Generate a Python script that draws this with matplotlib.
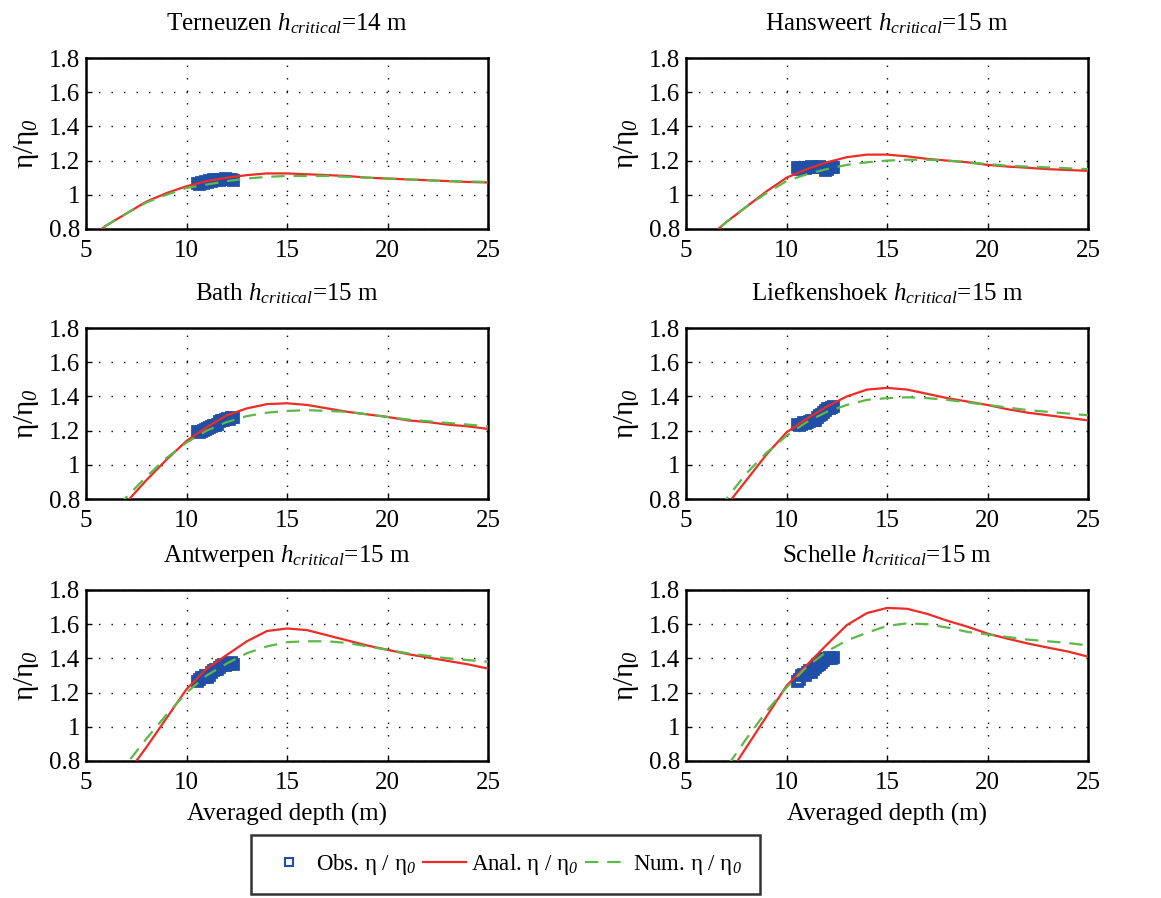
import matplotlib
matplotlib.use('Agg')
import matplotlib.pyplot as plt
from matplotlib.ticker import FormatStrFormatter
from matplotlib.lines import Line2D
import numpy as np

plt.rcParams['font.family'] = ['Liberation Serif', 'DejaVu Serif']
plt.rcParams['mathtext.fontset'] = 'custom'
plt.rcParams['mathtext.rm'] = 'Liberation Serif'
plt.rcParams['mathtext.it'] = 'Liberation Serif:italic'
plt.rcParams['mathtext.cal'] = 'Liberation Serif:italic'

# Stations and critical depths
stations = ['Terneuzen', 'Hansweert', 'Bath', 'Liefkenshoek', 'Antwerpen', 'Schelle']
h_critical = [14, 15, 15, 15, 15, 15]

# Model curves, evaluated at integer depths
depth = [5, 6, 7, 8, 9, 10, 11, 12, 13, 14, 15, 16, 17, 18, 19, 20, 21, 22, 23, 24, 25]

anal_terneuzen = [0.73, 0.82, 0.89, 0.96, 1.01, 1.05, 1.08, 1.10, 1.115, 1.125, 1.125, 1.12, 1.115, 1.11, 1.10, 1.095, 1.09, 1.085, 1.08, 1.075, 1.072]
num_terneuzen = [0.73, 0.82, 0.89, 0.955, 1.0, 1.04, 1.06, 1.08, 1.095, 1.105, 1.11, 1.11, 1.11, 1.105, 1.10, 1.095, 1.09, 1.085, 1.08, 1.078, 1.075]

anal_hansweert = [0.65, 0.74, 0.84, 0.93, 1.02, 1.10, 1.15, 1.19, 1.22, 1.235, 1.235, 1.225, 1.21, 1.20, 1.19, 1.175, 1.165, 1.158, 1.15, 1.145, 1.14]
num_hansweert = [0.65, 0.74, 0.84, 0.93, 1.01, 1.08, 1.12, 1.15, 1.175, 1.19, 1.20, 1.205, 1.205, 1.20, 1.19, 1.18, 1.17, 1.165, 1.16, 1.155, 1.15]

anal_bath = [0.55, 0.68, 0.78, 0.91, 1.03, 1.14, 1.22, 1.29, 1.33, 1.355, 1.36, 1.35, 1.33, 1.31, 1.295, 1.28, 1.26, 1.25, 1.235, 1.225, 1.21]
num_bath = [0.58, 0.70, 0.81, 0.93, 1.04, 1.13, 1.20, 1.25, 1.285, 1.305, 1.315, 1.32, 1.315, 1.31, 1.295, 1.28, 1.265, 1.255, 1.245, 1.235, 1.225]

anal_liefkenshoek = [0.52, 0.64, 0.76, 0.91, 1.06, 1.19, 1.27, 1.34, 1.40, 1.44, 1.45, 1.44, 1.415, 1.39, 1.37, 1.35, 1.325, 1.305, 1.29, 1.275, 1.26]
num_liefkenshoek = [0.58, 0.69, 0.80, 0.95, 1.07, 1.17, 1.25, 1.31, 1.35, 1.38, 1.39, 1.395, 1.39, 1.38, 1.365, 1.35, 1.335, 1.32, 1.31, 1.30, 1.29]

anal_antwerpen = [0.46, 0.58, 0.72, 0.88, 1.05, 1.22, 1.34, 1.42, 1.50, 1.56, 1.575, 1.565, 1.535, 1.505, 1.475, 1.45, 1.425, 1.405, 1.385, 1.365, 1.34]
num_antwerpen = [0.52, 0.65, 0.78, 0.93, 1.07, 1.20, 1.30, 1.37, 1.43, 1.47, 1.495, 1.50, 1.50, 1.49, 1.47, 1.45, 1.43, 1.415, 1.40, 1.39, 1.38]

anal_schelle = [0.42, 0.55, 0.70, 0.88, 1.06, 1.24, 1.36, 1.48, 1.595, 1.665, 1.695, 1.69, 1.66, 1.62, 1.585, 1.545, 1.515, 1.487, 1.463, 1.44, 1.41]
num_schelle = [0.48, 0.62, 0.76, 0.93, 1.09, 1.23, 1.35, 1.44, 1.505, 1.55, 1.59, 1.605, 1.60, 1.58, 1.555, 1.54, 1.525, 1.51, 1.50, 1.49, 1.475]

# Observations
obs_depth = [10.5, 10.6, 10.7, 10.8, 10.9, 11.0, 11.1, 11.2, 11.3, 11.4, 11.5, 11.6, 11.7, 11.8, 11.9, 12.0, 12.1, 12.2, 12.3]
obs_terneuzen = [1.07, 1.065, 1.075, 1.07, 1.08, 1.075, 1.085, 1.08, 1.09, 1.085, 1.09, 1.085, 1.095, 1.09, 1.10, 1.09, 1.095, 1.09, 1.085]
obs_hansweert = [1.16, 1.15, 1.165, 1.16, 1.155, 1.165, 1.16, 1.17, 1.16, 1.165, 1.16, 1.17, 1.165, 1.16, 1.145, 1.15, 1.16, 1.165, 1.16]
obs_bath = [1.20, 1.19, 1.20, 1.205, 1.21, 1.215, 1.22, 1.225, 1.23, 1.235, 1.24, 1.255, 1.26, 1.265, 1.27, 1.275, 1.27, 1.28, 1.28]
obs_liefkenshoek = [1.24, 1.235, 1.24, 1.25, 1.245, 1.25, 1.255, 1.26, 1.265, 1.26, 1.28, 1.29, 1.30, 1.31, 1.32, 1.33, 1.335, 1.34, 1.345]
obs_antwerpen = [1.27, 1.28, 1.29, 1.29, 1.30, 1.29, 1.30, 1.32, 1.33, 1.34, 1.34, 1.35, 1.36, 1.37, 1.36, 1.37, 1.375, 1.38, 1.37]
obs_schelle = [1.27, 1.28, 1.30, 1.31, 1.30, 1.32, 1.33, 1.32, 1.34, 1.35, 1.36, 1.37, 1.38, 1.39, 1.40, 1.40, 1.41, 1.40, 1.41]

anal_all = [anal_terneuzen, anal_hansweert, anal_bath, anal_liefkenshoek, anal_antwerpen, anal_schelle]
num_all = [num_terneuzen, num_hansweert, num_bath, num_liefkenshoek, num_antwerpen, num_schelle]
obs_all = [obs_terneuzen, obs_hansweert, obs_bath, obs_liefkenshoek, obs_antwerpen, obs_schelle]

c_obs = '#1f4fa6'
c_anal = '#ee2b25'
c_num = '#5cb848'

fig = plt.figure(figsize=(11.61, 8.98), dpi=100)

lefts = [0.0741, 0.5909]
bottoms = [0.745, 0.4443, 0.1526]
w, h = 0.3463, 0.1904

for i, name in enumerate(stations):
    row, col = i // 2, i % 2
    ax = fig.add_axes([lefts[col], bottoms[row], w, h])
    ax.plot(obs_depth, obs_all[i], 's', color=c_obs, mfc='none', mew=2, ms=7.5, zorder=3)
    ax.plot(depth, anal_all[i], '-', color=c_anal, lw=1.6, zorder=4)
    ax.plot(depth, num_all[i], '--', color=c_num, lw=1.6, dashes=(6, 4), zorder=4)
    ax.set_xlim(5, 25)
    ax.set_ylim(0.8, 1.8)
    ax.set_xticks([5, 10, 15, 20, 25])
    ax.set_yticks([0.8, 1.0, 1.2, 1.4, 1.6, 1.8])
    ax.yaxis.set_major_formatter(FormatStrFormatter('%g'))
    ax.grid(True, color='black', linestyle=(0, (1, 8)), linewidth=1)
    ax.tick_params(direction='in', length=4, width=1, labelsize=18)
    ax.tick_params(axis='x', pad=8)
    ax.tick_params(axis='y', pad=4)
    for s in ax.spines.values():
        s.set_linewidth(1.8)
    ax.set_title('%s $h_{critical}$=%d m' % (name, h_critical[i]), fontsize=18, pad=20)
    ax.set_ylabel('η/η$_{\\mathcal{0}}$', fontsize=21, labelpad=6)
    if row == 2:
        ax.set_xlabel('Averaged depth (m)', fontsize=18, labelpad=6)

handles = [
    Line2D([], [], marker='s', ls='none', color=c_obs, mfc='none', mew=1.5, ms=6),
    Line2D([], [], color=c_anal, lw=1.6),
    Line2D([], [], color=c_num, lw=1.6, ls='--', dashes=(6, 4)),
]
labels = ['Obs. η / η$_{\\mathcal{0}}$', 'Anal. η / η$_{\\mathcal{0}}$', 'Num. η / η$_{\\mathcal{0}}$']
leg = fig.legend(handles, labels, loc='center', bbox_to_anchor=(0.435, 0.0373), ncol=3,
                 fontsize=16.5, frameon=True, fancybox=False, handlelength=1.9,
                 columnspacing=0.3, handletextpad=0.2, borderpad=0.75)
leg.get_frame().set_edgecolor('black')
leg.get_frame().set_linewidth(1.8)

fig.savefig('out.png', dpi=100, facecolor='white')
